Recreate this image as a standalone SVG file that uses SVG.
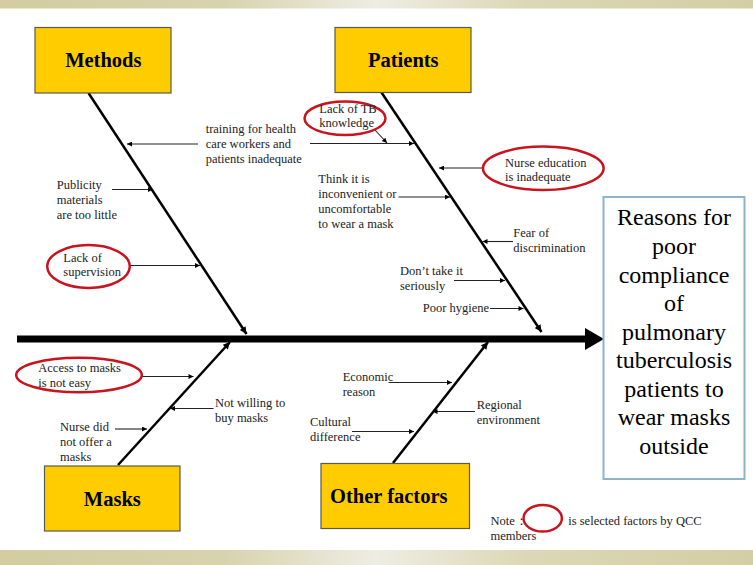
<svg xmlns="http://www.w3.org/2000/svg" width="753" height="565" viewBox="0 0 753 565" font-family="'Liberation Serif', 'Times New Roman', 'DejaVu Serif', serif">
<defs>
<linearGradient id="bar" x1="0" y1="0" x2="1" y2="0">
<stop offset="0" stop-color="#d2cca0"/>
<stop offset="0.3" stop-color="#d8d3af"/>
<stop offset="0.5" stop-color="#eeede3"/>
<stop offset="0.7" stop-color="#dcd7b6"/>
<stop offset="1" stop-color="#d4cea5"/>
</linearGradient>
<marker id="ah" viewBox="0 0 10 10" refX="10" refY="5" markerWidth="7" markerHeight="5" markerUnits="userSpaceOnUse" orient="auto">
<path d="M0,0 L10,5 L0,10 z" fill="#000"/>
</marker>
<marker id="bh" viewBox="0 0 10 10" refX="10" refY="5" markerWidth="9" markerHeight="7" markerUnits="userSpaceOnUse" orient="auto">
<path d="M0,0 L10,5 L0,10 z" fill="#000"/>
</marker>
</defs>
<style>
.box{fill:#ffcc00;stroke:#5a5a4a;stroke-width:1.2}
.title{font-weight:bold;font-size:20.5px;fill:#000;text-anchor:middle}
.lbl{font-size:12.5px;fill:#222}
.res{font-size:24px;fill:#000;text-anchor:middle}
.sel{fill:none;stroke:#c8141e;stroke-width:2.5}
.spine{stroke:#000;stroke-width:2.5;fill:none;marker-end:url(#bh)}
.arr{stroke:#222;stroke-width:1.1;fill:none;marker-end:url(#ah)}
</style>
<rect x="0" y="0" width="753" height="565" fill="#fff"/>
<rect x="0" y="0" width="753" height="8.5" fill="url(#bar)"/>
<rect x="0" y="550" width="753" height="15" fill="url(#bar)"/>

<g id="connectors">
<line x1="17" y1="339" x2="587" y2="339" stroke="#000" stroke-width="7"/>
<path d="M585,328 L604,339 L585,350 z" fill="#000"/>
<line class="spine" x1="88.5" y1="93" x2="246.5" y2="334"/>
<line class="spine" x1="381.5" y1="92.5" x2="541.5" y2="332"/>
<line class="spine" x1="118" y1="465" x2="230" y2="342"/>
<line class="spine" x1="393" y1="463" x2="488" y2="342"/>
<line class="arr" x1="198" y1="144" x2="127" y2="144"/>
<line class="arr" x1="310" y1="143.5" x2="414" y2="143.5"/>
<line class="arr" x1="375" y1="130" x2="387" y2="143"/>
<line class="arr" x1="112" y1="189.5" x2="153" y2="189.5"/>
<line class="arr" x1="129.5" y1="265.5" x2="200" y2="265.5"/>
<line class="arr" x1="483" y1="168" x2="439" y2="168"/>
<line class="arr" x1="398.5" y1="197" x2="450" y2="197"/>
<line class="arr" x1="513" y1="241.5" x2="482.5" y2="241.5"/>
<line class="arr" x1="454" y1="280.5" x2="505" y2="280.5"/>
<line class="arr" x1="490" y1="308.5" x2="523.5" y2="308.5"/>
<line class="arr" x1="142" y1="376.5" x2="193.5" y2="376.5"/>
<line class="arr" x1="213.5" y1="408.5" x2="170" y2="408.5"/>
<line class="arr" x1="115" y1="429" x2="147" y2="429"/>
<line class="arr" x1="388.5" y1="382.5" x2="452" y2="382.5"/>
<line class="arr" x1="475" y1="411.5" x2="432.5" y2="411.5"/>
<line class="arr" x1="352" y1="431.5" x2="414" y2="431.5"/>
</g>

<g id="methods">
<rect class="box" x="35" y="27.5" width="136" height="65.5"/>
<text class="title" x="103.3" y="67.3">Methods</text>
</g>
<g id="patients">
<rect class="box" x="335" y="27.5" width="136" height="65"/>
<text class="title" x="403.3" y="67.3">Patients</text>
</g>
<g id="masks">
<rect class="box" x="44.5" y="466" width="135.5" height="65"/>
<text class="title" x="112.3" y="505.7">Masks</text>
</g>
<g id="other-factors">
<rect class="box" x="321" y="463.5" width="148.5" height="65"/>
<text class="title" x="388.8" y="503.3">Other factors</text>
</g>

<g id="result">
<rect x="603.5" y="197" width="141" height="282" fill="#fff" stroke="#8fb4c9" stroke-width="2"/>
<text class="res" x="674" y="225">Reasons for</text>
<text class="res" x="674" y="254">poor</text>
<text class="res" x="674" y="282.5">compliance</text>
<text class="res" x="674" y="311">of</text>
<text class="res" x="674" y="339.5">pulmonary</text>
<text class="res" x="674" y="368">tuberculosis</text>
<text class="res" x="674" y="396.5">patients to</text>
<text class="res" x="674" y="425">wear masks</text>
<text class="res" x="674" y="453.5">outside</text>
</g>

<g id="training">
<text class="lbl" x="205.7" y="133.3">training for health</text>
<text class="lbl" x="205.7" y="148.3">care workers and</text>
<text class="lbl" x="205.7" y="163.3">patients inadequate</text>
</g>
<g id="publicity">
<text class="lbl" x="56.7" y="189">Publicity</text>
<text class="lbl" x="56.7" y="204">materials</text>
<text class="lbl" x="56.7" y="219">are too little</text>
</g>
<g id="supervision">
<ellipse class="sel" cx="88.5" cy="266.5" rx="41.3" ry="21.5"/>
<text class="lbl" x="63.3" y="261.7">Lack of</text>
<text class="lbl" x="63.3" y="276.2">supervision</text>
</g>
<g id="tb-knowledge">
<ellipse class="sel" cx="345" cy="118.3" rx="40.5" ry="16.7"/>
<text class="lbl" x="319.3" y="112.7">Lack of TB</text>
<text class="lbl" x="319.3" y="127.2">knowledge</text>
</g>
<g id="nurse-education">
<ellipse class="sel" cx="543.3" cy="168.3" rx="60.3" ry="21.7"/>
<text class="lbl" x="505" y="166.5">Nurse education</text>
<text class="lbl" x="505" y="181.3">is inadequate</text>
</g>
<g id="inconvenient">
<text class="lbl" x="318.3" y="182.5">Think it is</text>
<text class="lbl" x="318.3" y="197.8">inconvenient or</text>
<text class="lbl" x="318.3" y="213">uncomfortable</text>
<text class="lbl" x="318.3" y="228.2">to wear a mask</text>
</g>
<g id="discrimination">
<text class="lbl" x="513.3" y="237">Fear of</text>
<text class="lbl" x="513.3" y="252">discrimination</text>
</g>
<g id="seriously">
<text class="lbl" x="400" y="274.5">Don’t take it</text>
<text class="lbl" x="400" y="289.5">seriously</text>
</g>
<g id="hygiene">
<text class="lbl" x="422.7" y="312">Poor hygiene</text>
</g>
<g id="access">
<ellipse class="sel" cx="79" cy="375" rx="62.8" ry="17.3"/>
<text class="lbl" x="38.3" y="372">Access to masks</text>
<text class="lbl" x="38.3" y="387">is not easy</text>
</g>
<g id="not-willing">
<text class="lbl" x="215" y="406.5">Not willing to</text>
<text class="lbl" x="215" y="421.5">buy masks</text>
</g>
<g id="nurse-offer">
<text class="lbl" x="60" y="430.5">Nurse did</text>
<text class="lbl" x="60" y="445.5">not offer a</text>
<text class="lbl" x="60" y="460.5">masks</text>
</g>
<g id="economic">
<text class="lbl" x="342.7" y="381">Economic</text>
<text class="lbl" x="342.7" y="396">reason</text>
</g>
<g id="regional">
<text class="lbl" x="476.7" y="408.5">Regional</text>
<text class="lbl" x="476.7" y="423.5">environment</text>
</g>
<g id="cultural">
<text class="lbl" x="310" y="425.5">Cultural</text>
<text class="lbl" x="310" y="440.5">difference</text>
</g>
<g id="note">
<text class="lbl" x="490.5" y="525">Note：</text>
<ellipse class="sel" cx="542.7" cy="518.3" rx="19.2" ry="13.3"/>
<text class="lbl" x="568.3" y="525">is selected factors by QCC</text>
<text class="lbl" x="490.5" y="539.5">members</text>
</g>
</svg>
